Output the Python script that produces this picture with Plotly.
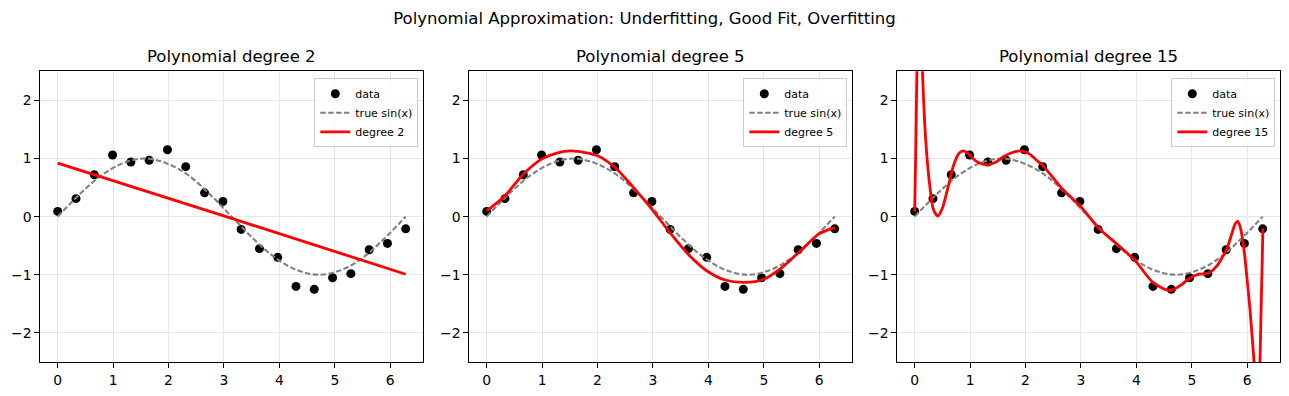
import plotly.graph_objects as go

# ---------------- data ----------------
data_x = [0.00, 0.33, 0.66, 0.99, 1.32, 1.65, 1.98, 2.31, 2.65, 2.98,
          3.31, 3.64, 3.97, 4.30, 4.63, 4.96, 5.29, 5.62, 5.95, 6.28]
data_y = [0.09, 0.31, 0.72, 1.06, 0.94, 0.97, 1.15, 0.86, 0.41, 0.26,
          -0.22, -0.55, -0.70, -1.20, -1.25, -1.05, -0.98, -0.57, -0.46, -0.21]

sin_x = [0.00, 0.39, 0.79, 1.18, 1.57, 1.96, 2.36, 2.75, 3.14,
         3.53, 3.93, 4.32, 4.71, 5.11, 5.50, 5.89, 6.28]
sin_y = [0.00, 0.38, 0.71, 0.92, 1.00, 0.92, 0.71, 0.38, 0.00,
         -0.38, -0.71, -0.92, -1.00, -0.92, -0.71, -0.38, 0.00]

deg2_x = [0.00, 3.14, 6.28]
deg2_y = [0.92, -0.03, -0.99]

deg5_x = [0.00, 0.33, 0.66, 0.99, 1.25, 1.53, 2.02, 2.32, 2.65, 2.98,
          3.31, 3.64, 3.97, 4.30, 4.66, 4.99, 5.32, 5.66, 5.99, 6.28]
deg5_y = [0.10, 0.36, 0.73, 0.99, 1.09, 1.13, 1.04, 0.84, 0.50, 0.13,
          -0.28, -0.65, -0.93, -1.09, -1.13, -1.08, -0.88, -0.59, -0.30, -0.19]

deg15_x = [0.00, 0.02, 0.04, 0.065, 0.09, 0.115, 0.14, 0.20, 0.27, 0.34,
           0.42, 0.50, 0.60, 0.70, 0.80, 0.88, 0.96, 1.05, 1.15, 1.30,
           1.45, 1.60, 1.75, 1.90, 2.05, 2.20, 2.33, 2.66, 2.99, 3.32,
           3.65, 3.98, 4.31, 4.61, 4.80, 4.96, 5.13, 5.30, 5.45, 5.55,
           5.63, 5.72, 5.78, 5.83, 5.88, 5.94, 5.99, 6.05, 6.10, 6.14,
           6.18, 6.21, 6.23, 6.25, 6.27, 6.283]
deg15_y = [0.09, 1.20, 2.50, 3.40, 3.70, 3.40, 2.50, 1.30, 0.55, 0.12,
           0.01, 0.15, 0.50, 0.88, 1.09, 1.13, 1.09, 1.00, 0.93, 0.89,
           0.93, 1.03, 1.10, 1.13, 1.09, 0.97, 0.86, 0.48, 0.18, -0.20,
           -0.47, -0.76, -1.14, -1.27, -1.18, -1.06, -0.99, -0.97, -0.85, -0.70,
           -0.56, -0.30, -0.13, -0.08, -0.20, -0.55, -1.00, -1.60, -2.20, -2.70,
           -3.10, -3.00, -2.50, -1.60, -0.80, -0.20]

panel_titles = ["Polynomial degree 2", "Polynomial degree 5", "Polynomial degree 15"]
fit_labels = ["degree 2", "degree 5", "degree 15"]
fits = [(deg2_x, deg2_y), (deg5_x, deg5_y), (deg15_x, deg15_y)]

x_tickvals = [0, 1, 2, 3, 4, 5, 6]
x_ticktext = ["0", "1", "2", "3", "4", "5", "6"]
y_tickvals = [-2, -1, 0, 1, 2]
y_ticktext = ["\u22122", "\u22121", "0", "1", "2"]

suptitle = "Polynomial Approximation: Underfitting, Good Fit, Overfitting"

# ---------------- layout geometry ----------------
W, H = 1289, 396
FONT = "DejaVu Sans"
x_domains = [(40.3 / W, 423.3 / W), (469.3 / W, 852.3 / W), (897.3 / W, 1280.3 / W)]
y_domain = (1 - 362.0 / H, 1 - 71.3 / H)

fig = go.Figure()
legend_names = ["legend", "legend2", "legend3"]

for i in range(3):
    xa = "x" if i == 0 else f"x{i+1}"
    ya = "y" if i == 0 else f"y{i+1}"
    lg = legend_names[i]
    fig.add_trace(go.Scatter(
        x=data_x, y=data_y, mode="markers", name="data",
        marker=dict(color="black", size=9, line=dict(width=0)),
        xaxis=xa, yaxis=ya, legend=lg))
    fig.add_trace(go.Scatter(
        x=sin_x, y=sin_y, mode="lines", name="true sin(x)",
        line=dict(color="#808080", width=2.1, dash="5.5px,2.4px", shape="spline"),
        xaxis=xa, yaxis=ya, legend=lg))
    fx, fy = fits[i]
    fig.add_trace(go.Scatter(
        x=fx, y=fy, mode="lines", name=fit_labels[i],
        line=dict(color="red", width=2.8, shape="spline", smoothing=0.8),
        xaxis=xa, yaxis=ya, legend=lg))

axis_common = dict(
    showline=True, linecolor="black", linewidth=1.1, mirror=True,
    ticks="outside", ticklen=4.9, tickwidth=1.1, tickcolor="black",
    showgrid=True, gridcolor="#e6e6e6", gridwidth=1.1,
    zeroline=False, tickfont=dict(family=FONT, size=13.9, color="black"),
)

layout = dict(
    width=W, height=H,
    margin=dict(l=0, r=0, t=0, b=0),
    paper_bgcolor="white", plot_bgcolor="white",
    font=dict(family=FONT, color="black"),
    title=dict(text=suptitle, x=0.5, xanchor="center", y=1 - 18.5 / H, yanchor="middle",
               font=dict(family=FONT, size=16.5, color="black")),
    annotations=[],
)

for i in range(3):
    xk = "xaxis" if i == 0 else f"xaxis{i+1}"
    yk = "yaxis" if i == 0 else f"yaxis{i+1}"
    ya = "y" if i == 0 else f"y{i+1}"
    xa = "x" if i == 0 else f"x{i+1}"
    layout[xk] = dict(axis_common, domain=list(x_domains[i]), anchor=ya,
                      range=[-0.314, 6.597], tickvals=x_tickvals, ticktext=x_ticktext)
    layout[yk] = dict(axis_common, domain=list(y_domain), anchor=xa,
                      range=[-2.5, 2.5], tickvals=y_tickvals, ticktext=y_ticktext)
    cx = (x_domains[i][0] + x_domains[i][1]) / 2
    layout["annotations"].append(dict(
        text=panel_titles[i], x=cx, y=y_domain[1], xref="paper", yref="paper",
        xanchor="center", yanchor="bottom", yshift=3, showarrow=False,
        font=dict(family=FONT, size=16.5, color="black")))
    layout[legend_names[i]] = dict(
        x=x_domains[i][1] - 5 / W, y=y_domain[1] - 7 / H,
        xanchor="right", yanchor="top", xref="paper", yref="paper",
        bgcolor="rgba(255,255,255,0.8)", bordercolor="#cccccc", borderwidth=1,
        font=dict(family=FONT, size=11, color="black"),
        itemwidth=30, tracegroupgap=0,
    )

fig.update_layout(**layout)
fig.write_html("out.html",
               config={"displayModeBar": False},
               post_script="document.body.style.margin='0';document.body.style.padding='0';")
